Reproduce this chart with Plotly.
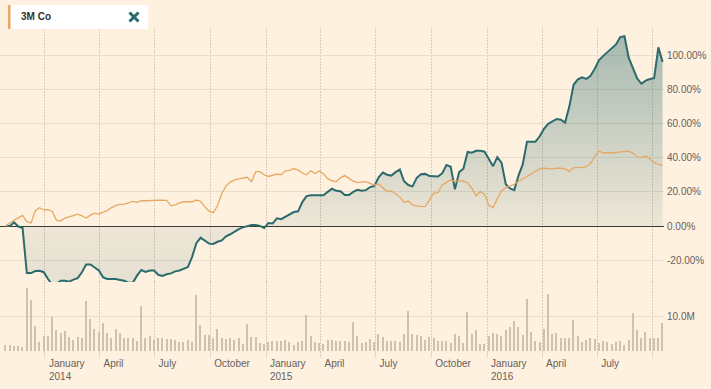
import pandas as pd
import plotly.graph_objects as go

# ---------------- data (weekly) ----------------
start_date = "2013-10-28"
n_weeks = 156

mmm_pct = [0, 0, 2.2, -0.3, -1.2, -27.5, -27.5, -26.3, -26.2, -27,
           -31, -34.4, -33.8, -32, -32, -32.5, -31.3, -30.5, -27, -22.5,
           -22.5, -24.5, -26, -30, -31, -31, -31, -31.5, -32, -33.2,
           -33.2, -29, -25.7, -26.8, -26, -26, -28.5, -29.2, -28.2, -27.7,
           -26.5, -26, -24.8, -24, -18, -10, -6.8, -8.8, -10.3, -10.5,
           -9.2, -8.4, -6, -4.8, -3.2, -1.8, -0.8, 0, 0.6, 0.6,
           0.1, -1.2, 1.8, 1.5, 4.5, 4, 5.3, 6.7, 8.2, 8.6,
           14, 17.5, 18, 18, 18, 18, 20, 21.8, 20.6, 20.4,
           18.2, 18.1, 20, 21.2, 20.7, 21, 22.8, 23.5, 28.5, 31.3,
           30, 29.5, 31.5, 33, 26.2, 24, 23.2, 28.2, 30.3, 30.5,
           29.2, 29.2, 29, 30.8, 35.7, 34.7, 21.5, 31.5, 33.5, 43.3,
           42.9, 44, 44, 43.5, 39, 35, 40.3, 37, 24.4, 22,
           21, 29.5, 36, 49.3, 49.3, 49.3, 52.5, 56.8, 59.8, 61.1,
           62.6, 62.2, 60.5, 70, 82.6, 85.8, 87, 86, 87.9, 92,
           97, 99.5, 101.9, 103.8, 106.2, 110.5, 111, 98.5, 92.5, 86.3,
           83.2, 85, 86, 86.5, 104.5, 96]

index_pct = [0, 1.8, 3.5, 4.8, 6.2, 2.6, 1.8, 9, 10.7, 9.4,
             9.6, 8.5, 3.3, 3, 4.6, 5.4, 6.2, 7, 6, 4.7,
             6.4, 7.5, 7, 8, 9.2, 10.8, 12.1, 12.7, 12.8, 13.5,
             14.4, 13.8, 14.8, 14.8, 15, 15.2, 15.2, 15.2, 15, 11.8,
             12.3, 13.5, 14.2, 14.2, 14.2, 15.2, 14.5, 11.2, 8.7, 7.8,
             12, 19, 23.5, 25.7, 27, 27.6, 28, 28.5, 26, 31.8,
             31.8, 30, 29, 29.5, 30.4, 30, 32.3, 32.5, 33.5, 32.8,
             31, 30, 32.3, 30.7, 32.2, 30.5, 27.7, 26.4, 25.9, 28.2,
             29.5, 27.9, 26.3, 25.4, 25.7, 26, 25, 24, 24.6, 22.5,
             20.2, 20.6, 18.8, 17, 13.8, 14.6, 12.4, 11.9, 11.4, 11.5,
             15.5, 19.3, 19.5, 24, 25.5, 26.9, 26.1, 26.5, 26.2, 25.3,
             22, 17.8, 20.1, 18.5, 12, 10.8, 16, 20.5, 22.4, 23.3,
             24.4, 26.2, 27.5, 29, 30.4, 32, 33.4, 33.9, 33.8, 33.3,
             33.8, 33.9, 33.4, 31.8, 34.2, 34.1, 34.3, 34.7, 36.5, 40.8,
             43.9, 42.7, 42.5, 42.7, 43.1, 43.4, 43.6, 43.8, 42.5, 40.4,
             40, 41, 39.2, 37.2, 36, 35.6]

volume_m = [1.8, 1.8, 1.6, 1.5, 1.3, 18.4, 15.0, 7.4, 2.5, 4.4,
            4.4, 10.1, 6.2, 5.2, 5.9, 4.2, 3.2, 4.2, 3.9, 14.8,
            9.3, 6.5, 5.7, 8.1, 5.2, 3.7, 6.4, 5.2, 3.8, 3.7,
            3.7, 2.8, 13.2, 3.8, 4.4, 3.2, 3.7, 3.7, 3.5, 3.5,
            3.2, 2.7, 2.7, 3.2, 2.7, 16.5, 7.5, 4.7, 4.7, 3.7,
            6.6, 3.7, 3.4, 3.7, 3.2, 3.7, 2.2, 7.8, 4.2, 4.0,
            2.4, 2.0, 2.7, 3.0, 3.0, 3.0, 3.2, 2.7, 1.8, 2.7,
            3.0, 10.6, 4.4, 2.7, 2.4, 2.0, 3.2, 3.2, 3.0, 3.0,
            3.0, 2.7, 8.6, 4.4, 2.4, 2.7, 3.5, 2.7, 5.0, 4.2,
            3.0, 3.0, 3.0, 2.7, 5.0, 11.9, 5.0, 4.7, 4.4, 3.2,
            4.2, 3.7, 3.0, 3.0, 3.0, 2.4, 4.9, 4.4, 2.4, 11.4,
            4.9, 6.2, 2.0, 2.0, 4.5, 5.4, 4.9, 4.5, 6.2, 7.2,
            8.9, 7.2, 4.7, 15.2, 5.7, 3.0, 2.7, 6.4, 16.8, 4.9,
            5.2, 3.7, 3.7, 3.7, 9.1, 4.4, 2.7, 3.2, 3.7, 3.4,
            2.4, 3.0, 2.7, 2.2, 2.7, 3.0, 1.8, 3.2, 11.3, 6.2,
            3.7, 5.5, 3.7, 3.7, 3.7, 8.1]

x_tick_dates = ["2014-01-01", "2014-04-01", "2014-07-01", "2014-10-01",
                "2015-01-01", "2015-04-01", "2015-07-01", "2015-10-01",
                "2016-01-01", "2016-04-01", "2016-07-01", "2016-10-01"]
x_tick_text = ["January<br>2014", "April", "July", "October",
               "January<br>2015", "April", "July", "October",
               "January<br>2016", "April", "July", ""]
y_tick_vals = [-20, 0, 20, 40, 60, 80, 100]
y_tick_text = ["-20.00%", "0.00%", "20.00%", "40.00%", "60.00%", "80.00%", "100.00%"]
vol_tick_vals = [10e6]
vol_tick_text = ["10.0M"]
legend_label = "3M Co"

# ---------------- styling ----------------
W, H = 711, 389
PLOT_W = 664
BG = "#fff1e0"
TEAL = "#2b6b6d"
ORANGE = "#e6a862"
VOLC = "#cfc1b0"
GRID = "#eaddcc"
VGRID = "#d9cbba"
TXT = "#66605a"
FONT = "Liberation Sans, Arial, sans-serif"

weeks = pd.date_range(start_date, periods=n_weeks, freq="7D")
volume = [v * 1e6 for v in volume_m]


def py(p):
    return 1 - p / H


def px(p):
    return p / PLOT_W


fig = go.Figure()

fig.add_trace(go.Scatter(
    x=weeks, y=mmm_pct, mode="lines", line=dict(color=TEAL, width=2),
    fill="tozeroy",
    fillgradient=dict(type="vertical", start=-37.4, stop=115.8,
                      colorscale=[[0, "rgba(43,107,109,0.13)"],
                                  [0.244, "rgba(43,107,109,0.08)"],
                                  [1, "rgba(43,107,109,0.43)"]]),
    hoverinfo="skip", showlegend=False, xaxis="x", yaxis="y"))

fig.add_trace(go.Scatter(
    x=weeks, y=index_pct, mode="lines", line=dict(color=ORANGE, width=1.3),
    hoverinfo="skip", showlegend=False, xaxis="x", yaxis="y"))

fig.add_trace(go.Bar(
    x=weeks[:len(volume)], y=volume, marker=dict(color=VOLC, line=dict(width=0)),
    width=2.2 * 86400000, hoverinfo="skip", showlegend=False,
    xaxis="x", yaxis="y2"))

x_start = pd.Timestamp("2014-01-01") - pd.Timedelta(days=74.3)
x_end = pd.Timestamp("2014-01-01") + pd.Timedelta(days=1022.3)

fig.update_layout(
    width=W, height=H,
    margin=dict(l=0, r=W - PLOT_W, t=0, b=0),
    paper_bgcolor=BG, plot_bgcolor=BG,
    font=dict(family=FONT, size=10, color=TXT),
    bargap=0,
    xaxis=dict(
        type="date", range=[x_start, x_end], anchor="y2",
        tickvals=x_tick_dates, ticktext=x_tick_text,
        ticklabelposition="outside right", ticklabelshift=4,
        ticklabelstandoff=-2,
        showgrid=True, gridcolor=VGRID, griddash="2px,1px", gridwidth=1,
        ticks="", showline=False, zeroline=False,
        tickfont=dict(size=10, color=TXT),
    ),
    yaxis=dict(
        domain=[py(290), py(28)], range=[-37.4, 115.8], side="right",
        anchor="x", tickvals=y_tick_vals, ticktext=y_tick_text,
        showgrid=True, gridcolor=GRID, gridwidth=1,
        zeroline=True, zerolinecolor="#3a3632", zerolinewidth=1,
        ticks="", showline=False, tickfont=dict(size=10, color=TXT),
        ticklabelstandoff=2,
    ),
    yaxis2=dict(
        domain=[py(358), py(282)], range=[-2.06e6, 20.29e6], side="right",
        anchor="x", tickvals=vol_tick_vals, ticktext=vol_tick_text,
        showgrid=True, gridcolor=GRID, gridwidth=1, zeroline=False,
        ticks="", showline=False, tickfont=dict(size=10, color=TXT),
        ticklabelstandoff=2,
    ),
    shapes=[
        dict(type="rect", xref="paper", yref="paper",
             x0=px(8), x1=px(148), y0=py(29), y1=py(5),
             fillcolor="white", line=dict(width=0), layer="above"),
        dict(type="rect", xref="paper", yref="paper",
             x0=px(8), x1=px(10.5), y0=py(29), y1=py(5),
             fillcolor=ORANGE, line=dict(width=0), layer="above"),
        dict(type="line", xref="paper", yref="paper",
             x0=px(129.5), x1=px(138.5), y0=py(12.5), y1=py(21.5),
             line=dict(color=TEAL, width=3), layer="above"),
        dict(type="line", xref="paper", yref="paper",
             x0=px(129.5), x1=px(138.5), y0=py(21.5), y1=py(12.5),
             line=dict(color=TEAL, width=3), layer="above"),
    ],
    annotations=[
        dict(text="<b>" + legend_label + "</b>", xref="paper", yref="paper",
             x=px(19), y=py(17), xanchor="left", yanchor="middle",
             showarrow=False, font=dict(family=FONT, size=10, color="#33302e")),
    ],
)

fig.write_html("out.html", config={"displayModeBar": False},
               post_script="document.body.style.margin='0';")
